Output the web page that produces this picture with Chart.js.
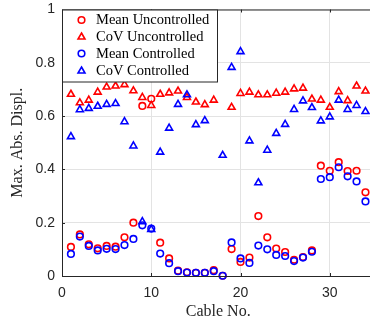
<!DOCTYPE html>
<html>
<head>
<meta charset="utf-8">
<script src="https://cdn.jsdelivr.net/npm/chart.js@4.4.0/dist/chart.umd.min.js"></script>
<style>
  html, body { margin: 0; padding: 0; background: #fff; overflow: hidden; }
  #wrap { width: 380px; height: 324px; }
</style>
</head>
<body>
<div id="wrap"><canvas id="chart" width="380" height="324"></canvas></div>
<script>
// Cable numbers 1..34
const cables = [1,2,3,4,5,6,7,8,9,10,11,12,13,14,15,16,17,18,19,20,21,22,23,24,25,26,27,28,29,30,31,32,33,34];

const meanUncontrolled = [0.109,0.156,0.119,0.104,0.113,0.110,0.145,0.200,0.638,0.665,0.125,0.066,0.020,0.014,0.012,0.012,0.022,0.001,0.101,0.053,0.069,0.225,0.145,0.103,0.090,0.061,0.071,0.096,0.414,0.395,0.427,0.394,0.395,0.314];
const covUncontrolled = [0.682,0.650,0.660,0.690,0.709,0.713,0.718,0.695,0.670,0.640,0.682,0.687,0.694,0.670,0.653,0.643,0.660,null,0.633,0.685,0.690,0.680,0.680,0.686,0.690,0.702,0.705,0.664,0.660,0.633,0.692,0.658,0.713,0.694];
const meanControlled = [0.083,0.148,0.113,0.096,0.102,0.101,0.116,0.139,0.190,0.178,0.084,0.048,0.018,0.013,0.012,0.012,0.018,0.001,0.126,0.066,0.049,0.114,0.100,0.079,0.075,0.056,0.069,0.091,0.364,0.371,0.408,0.374,0.355,0.280];
const covControlled = [0.523,0.624,0.629,0.637,0.644,0.647,0.579,0.488,0.204,0.175,0.465,0.555,0.644,0.680,0.568,0.583,null,0.453,0.783,0.842,0.507,0.350,0.472,0.535,0.569,0.625,0.657,0.632,0.582,0.597,0.660,0.625,0.640,0.617];

const seriesLabels = ['Mean Uncontrolled', 'CoV Uncontrolled', 'Mean Controlled', 'CoV Controlled'];
const seriesColors = ['rgb(255,0,0)', 'rgb(255,0,0)', 'rgb(0,0,255)', 'rgb(0,0,255)'];
const seriesShapes = ['circle', 'triangle', 'circle', 'triangle'];

const xTicks = [0, 10, 20, 30];

const axisColor = '#262626';
const serif = '"Liberation Serif", "Times New Roman", serif';
const sans = '"Liberation Sans", Arial, sans-serif';

function toPoints(values) {
    return cables.map((c, i) => ({ x: c, y: values[i] }));
}

function makeDataset(idx, values, order) {
    const shape = seriesShapes[idx];
    return {
        label: seriesLabels[idx],
        data: toPoints(values),
        pointStyle: shape,
        pointRadius: shape === 'circle' ? 3.3 : 4,
        pointBorderWidth: 1.6,
        pointBorderColor: seriesColors[idx],
        pointBackgroundColor: 'rgba(0,0,0,0)',
        showLine: false,
        clip: false,
        order: order
    };
}

function drawMarker(ctx, shape, x, y, color) {
    ctx.save();
    ctx.strokeStyle = color;
    ctx.lineWidth = 1.6;
    ctx.beginPath();
    if (shape === 'circle') {
        ctx.arc(x, y, 3.3, 0, Math.PI * 2);
    } else {
        const r = 4;
        let a = 0;
        ctx.moveTo(x + Math.sin(a) * r, y - Math.cos(a) * r);
        a += Math.PI * 2 / 3;
        ctx.lineTo(x + Math.sin(a) * r, y - Math.cos(a) * r);
        a += Math.PI * 2 / 3;
        ctx.lineTo(x + Math.sin(a) * r, y - Math.cos(a) * r);
        ctx.closePath();
    }
    ctx.stroke();
    ctx.restore();
}

// Box, inward ticks and legend in the MATLAB style
const boxPlugin = {
    id: 'box',
    afterDraw(chart) {
        const ctx = chart.ctx;
        const a = chart.chartArea;
        const xs = chart.scales.x;
        const ys = chart.scales.y;
        ctx.save();
        ctx.strokeStyle = axisColor;
        ctx.lineWidth = 1;
        ctx.beginPath();
        ctx.moveTo(a.left + 0.5, a.top + 0.5);
        ctx.lineTo(a.left + 0.5, a.bottom + 0.5);
        ctx.lineTo(a.right, a.bottom + 0.5);
        ctx.moveTo(a.left + 0.5, a.top + 0.5);
        ctx.lineTo(a.right, a.top + 0.5);
        xTicks.forEach(t => {
            const px = Math.round(xs.getPixelForValue(t)) + 0.5;
            ctx.moveTo(px, a.bottom);
            ctx.lineTo(px, a.bottom - 3);
            ctx.moveTo(px, a.top);
            ctx.lineTo(px, a.top + 3);
        });
        [0, 0.2, 0.4, 0.6, 0.8, 1].forEach(t => {
            const py = Math.round(ys.getPixelForValue(t)) + 0.5;
            ctx.moveTo(a.left, py);
            ctx.lineTo(a.left + 3, py);
        });
        ctx.stroke();

        // legend, anchored to the top-left corner of the plot
        const lx = a.left + 0.5, ly = a.top + 0.5, lw = 155, lh = 72;
        ctx.fillStyle = '#fff';
        ctx.fillRect(lx, ly, lw, lh);
        ctx.strokeStyle = axisColor;
        ctx.strokeRect(lx, ly, lw, lh);
        ctx.font = '14.5px ' + serif;
        ctx.fillStyle = '#000';
        ctx.textBaseline = 'middle';
        const rows = [10.5, 27.5, 44, 61.5];
        seriesLabels.forEach((lab, i) => {
            drawMarker(ctx, seriesShapes[i], a.left + 19.5, a.top + rows[i], seriesColors[i]);
            ctx.fillText(lab, a.left + 34, a.top + rows[i] + 0.5);
        });
        ctx.restore();
    }
};

new Chart(document.getElementById('chart'), {
    type: 'scatter',
    data: {
        datasets: [
            makeDataset(0, meanUncontrolled, 4),
            makeDataset(1, covUncontrolled, 3),
            makeDataset(2, meanControlled, 2),
            makeDataset(3, covControlled, 1)
        ]
    },
    options: {
        responsive: false,
        animation: false,
        devicePixelRatio: 1,
        layout: { padding: { top: 9.5, right: 5.3, left: 0, bottom: 0 } },
        plugins: {
            legend: { display: false },
            tooltip: { enabled: false }
        },
        scales: {
            x: {
                type: 'linear',
                min: 0,
                max: 35,
                afterFit: s => {
                    s.height = 48;
                    s.paddingLeft = 0;
                    s.paddingRight = 0;
                },
                ticks: {
                    stepSize: 10,
                    color: axisColor,
                    font: { family: sans, size: 14 },
                    padding: 9,
                    maxRotation: 0,
                    callback: v => (v % 10 === 0 ? String(v) : '')
                },
                grid: { color: '#e3e3e3', drawTicks: false },
                border: { display: false },
                title: {
                    display: true,
                    text: 'Cable No.',
                    color: axisColor,
                    font: { family: serif, size: 16 },
                    padding: { top: 2, bottom: 2.5 }
                }
            },
            y: {
                min: 0,
                max: 1,
                afterFit: s => {
                    s.width = 62;
                    s.paddingTop = 0;
                    s.paddingBottom = 0;
                },
                ticks: {
                    stepSize: 0.2,
                    color: axisColor,
                    font: { family: sans, size: 14 },
                    padding: 7,
                    callback: v => String(Math.round(v * 10) / 10)
                },
                grid: { color: '#e3e3e3', drawTicks: false },
                border: { display: false },
                title: {
                    display: true,
                    text: 'Max. Abs. Displ.',
                    color: axisColor,
                    font: { family: serif, size: 16 },
                    padding: { top: 8, bottom: 0 }
                }
            }
        }
    },
    plugins: [boxPlugin]
});
</script>
</body>
</html>
